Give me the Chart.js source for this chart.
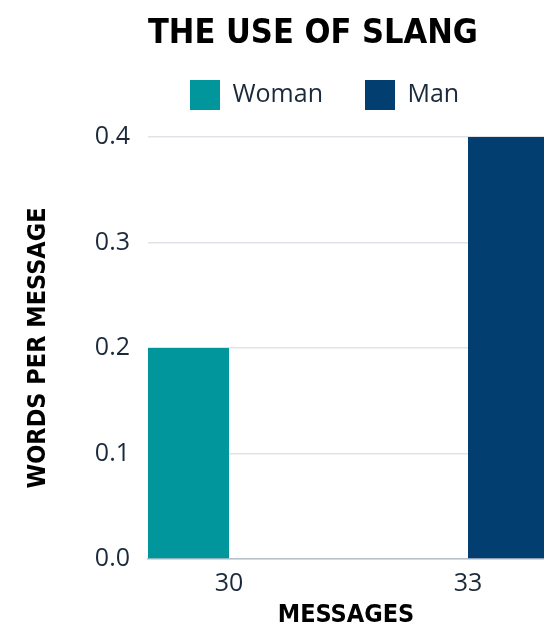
<!DOCTYPE html>
<html><head><meta charset="utf-8">
<script src="https://cdn.jsdelivr.net/npm/chart.js@4.4.1/dist/chart.umd.min.js"></script>
<style>html,body{margin:0;padding:0;background:#fff;overflow:hidden}#wrap{width:544px;height:632px}</style>
</head><body><div id="wrap"><canvas id="c" width="544" height="632"></canvas></div>
<script>
const categories = [30, 33];
const womanValues = [0.2, 0];
const manValues = [0, 0.4];
const yTicks = [0, 0.1, 0.2, 0.3, 0.4];
const seriesNames = ['Woman', 'Man'];
const chartTitle = 'THE USE OF SLANG';
const xTitle = 'MESSAGES';
const yTitle = 'WORDS PER MESSAGE';

const TEXT = '#1b2a3a';
const condensed = "'Liberation Sans Narrow', 'DejaVu Sans Condensed', sans-serif";
const body = "'Open Sans', 'Noto Sans', sans-serif";

const toPoints = vals => categories.map((c, i) => ({x: c, y: vals[i]}));

const legendSpacer = {
  id: 'legendSpacer',
  beforeLayout(chart) {
    const leg = chart.legend;
    if (leg && !leg._patched) {
      const orig = leg.fit;
      leg.fit = function() { orig.call(this); this.height += 17; };
      leg._patched = true;
    }
  }
};

new Chart(document.getElementById('c').getContext('2d'), {
  type: 'bar',
  data: {
    datasets: [
      {label: seriesNames[0], data: toPoints(womanValues), backgroundColor: '#00969b', borderWidth: 0, categoryPercentage: 0.678, barPercentage: 1},
      {label: seriesNames[1], data: toPoints(manValues), backgroundColor: '#023e6f', borderWidth: 0, categoryPercentage: 0.678, barPercentage: 1}
    ]
  },
  plugins: [legendSpacer],
  options: {
    responsive: false,
    animation: false,
    layout: {padding: 0},
    plugins: {
      title: {display: true, text: chartTitle, fullSize: false, align: 'start', color: '#000',
        font: {family: condensed, size: 34, weight: 'bold', lineHeight: 0.25}, padding: {top: 29.5, bottom: 0}},
      legend: {display: true, position: 'top', align: 'start', fullSize: false,
        labels: {boxWidth: 30, boxHeight: 30, padding: 42, color: TEXT, font: {family: body, size: 25}}},
      tooltip: {enabled: false}
    },
    scales: {
      x: {type: 'linear', offset: false, min: 28.983, max: 33.954,
        afterBuildTicks: s => { s.ticks = categories.map(v => ({value: v})); },
        afterFit: s => { s.height = 73; },
        grid: {display: false, offset: false, drawTicks: false},
        border: {display: true, color: '#b8c1ca', width: 1.5},
        ticks: {color: TEXT, font: {family: body, size: 25}, padding: 10, callback: v => String(v)},
        title: {display: true, text: xTitle, color: '#000', font: {family: condensed, size: 25, weight: 'bold'}, padding: {top: 0, bottom: 2}}
      },
      y: {min: 0, max: 0.4,
        afterBuildTicks: s => { s.ticks = yTicks.map(v => ({value: v})); },
        afterFit: s => { s.width = 148; },
        grid: {color: '#dfe3e7', lineWidth: 1.5, drawTicks: false},
        border: {display: false},
        ticks: {color: TEXT, font: {family: body, size: 25}, padding: 18, callback: v => v.toFixed(1)},
        title: {display: true, text: yTitle, color: '#000', font: {family: condensed, size: 25, weight: 'bold'}, padding: {top: 23, bottom: 0}}
      }
    }
  }
});
</script></body></html>
